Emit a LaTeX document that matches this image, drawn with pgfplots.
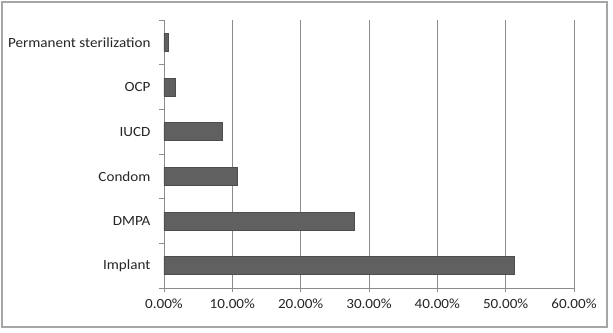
\documentclass[border=0pt]{standalone}
\usepackage{pgfplots}
\pgfplotsset{compat=1.18}
\usepackage{fontspec}
\setmainfont{Carlito}[FakeStretch=1.08]
\definecolor{barc}{HTML}{606060}
\definecolor{gridc}{HTML}{8C8C8C}
\definecolor{txt}{HTML}{262626}
\begin{document}
\begin{tikzpicture}[x=1pt,y=1pt]
\fill[white] (-164,-44) rectangle (449,288);
\draw[gray!70, line width=1.5pt] (-162,-39) rectangle (443,286);
\begin{axis}[
  at={(0,0)}, anchor=south west,
  scale only axis, width=410pt, height=268pt,
  xbar, bar width=18pt,
  xmin=0, xmax=60, ymin=-0.5, ymax=5.5,
  axis x line*=bottom, axis y line*=left,
  axis line style={gridc, line width=0.8pt},
  xtick={0,10,...,60},
  xticklabels={0.00\%,10.00\%,20.00\%,30.00\%,40.00\%,50.00\%,60.00\%},
  xmajorgrids, major grid style={gridc, line width=0.8pt},
  ytick={0,...,5},
  yticklabels={Implant,DMPA,Condom,IUCD,OCP,Permanent sterilization},
  minor ytick={-0.5,0.5,...,5.5},
  tick align=outside,
  major x tick style={gridc, line width=0.8pt},
  major tick length=4pt,
  y tick style={draw=none},
  minor y tick style={gridc, line width=0.8pt, draw=gridc},
  minor tick length=5pt,
  ticklabel style={font=\fontsize{14}{16}\selectfont, text=txt},
  yticklabel style={xshift=-6pt},
  xticklabel style={yshift=-3pt},
  /pgf/number format/assume math mode=true,
  clip=false,
]
\addplot[fill=barc, draw=barc!80!black] coordinates {
(51.3,0) (27.9,1) (10.7,2) (8.5,3) (1.6,4) (0.6,5)};
\end{axis}
\useasboundingbox (-164,-44) rectangle (449,288);
\end{tikzpicture}
\end{document}
